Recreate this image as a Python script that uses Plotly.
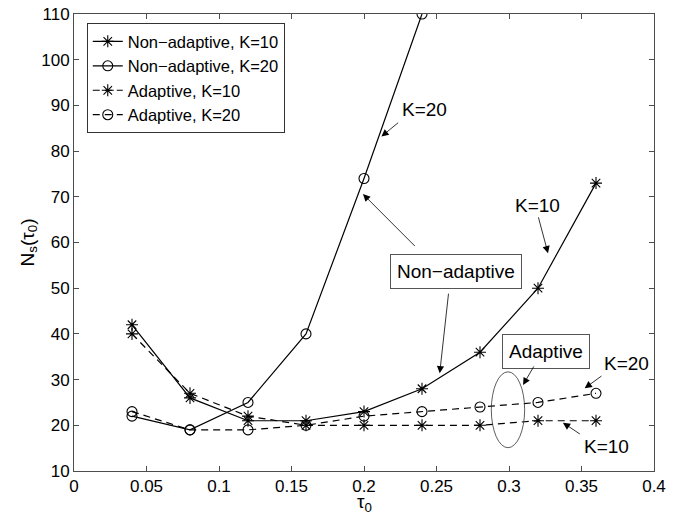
import plotly.graph_objects as go

# ---- data ----
tau = [0.04, 0.08, 0.12, 0.16, 0.20, 0.24, 0.28, 0.32, 0.36]
tau_k20_nonadapt = [0.04, 0.08, 0.12, 0.16, 0.20, 0.24]

nonadapt_k10 = [42, 26, 21, 21, 23, 28, 36, 50, 73]
nonadapt_k20 = [22, 19, 25, 40, 74, 110]
adapt_k10 = [40, 27, 22, 20, 20, 20, 20, 21, 21]
adapt_k20 = [23, 19, 19, 20, 22, 23, 24, 25, 27]

x_ticks = [0, 0.05, 0.1, 0.15, 0.2, 0.25, 0.3, 0.35, 0.4]
x_ticktext = ["0", "0.05", "0.1", "0.15", "0.2", "0.25", "0.3", "0.35", "0.4"]
y_ticks = [10, 20, 30, 40, 50, 60, 70, 80, 90, 100, 110]

FONT = "Liberation Sans, Arial, sans-serif"
BLACK = "#000000"
AX = "#4d4d4d"

fig = go.Figure()

def add(x, y, name, symbol, dash):
    fig.add_trace(go.Scatter(
        x=x, y=y, name=name, mode="lines+markers",
        line=dict(color=BLACK, width=1.2, dash=dash),
        marker=dict(symbol=symbol, size=10, color=BLACK,
                    line=dict(color=BLACK, width=1.1)),
    ))

add(tau, nonadapt_k10, "Non\u2212adaptive, K=10", "asterisk-open", "solid")
add(tau_k20_nonadapt, nonadapt_k20, "Non\u2212adaptive, K=20", "circle-open", "solid")
add(tau, adapt_k10, "Adaptive, K=10", "asterisk-open", "7px,5px")
add(tau, adapt_k20, "Adaptive, K=20", "circle-open", "7px,5px")

annotations = []

def text(x, y, t, box=False):
    d = dict(x=x, y=y, xref="x", yref="y", text=t, showarrow=False,
             font=dict(family=FONT, size=19, color=BLACK),
             xanchor="center", yanchor="middle")
    if box:
        d.update(bordercolor="#555555", borderwidth=1, borderpad=6, bgcolor="white")
    annotations.append(d)

def arrow(tx, ty, hx, hy):
    annotations.append(dict(x=hx, y=hy, ax=tx, ay=ty, xref="x", yref="y",
                            axref="x", ayref="y", text="", showarrow=True,
                            arrowhead=2, arrowsize=1.8, arrowwidth=0.8,
                            arrowcolor=BLACK, standoff=0, startstandoff=0))

text(0.2419, 89.05, "K=20")
arrow(0.2246, 86.48, 0.2120, 83.2)
text(0.3194, 68.07, "K=10")
arrow(0.3200, 65.84, 0.3269, 57.67)
text(0.2631, 53.57, "Non\u2212adaptive", box=True)
arrow(0.2361, 58.89, 0.1993, 70.59)
arrow(0.2584, 49.13, 0.2522, 31.39)
text(0.3255, 36.2, "Adaptive", box=True)
arrow(0.3177, 33.21, 0.3097, 28.83)
text(0.381, 33.58, "K=20")
arrow(0.3648, 31.02, 0.3522, 28.11)
text(0.3672, 15.32, "K=10")
arrow(0.3499, 17.88, 0.3372, 20.58)

# axis titles
annotations.append(dict(x=-0.0793, y=0.5, xref="paper", yref="paper",
                        text="N<sub>s</sub>(\u03c4<sub>0</sub>)", textangle=-90,
                        showarrow=False, xanchor="center", yanchor="middle",
                        font=dict(family=FONT, size=19, color=BLACK)))
annotations.append(dict(x=0.5, y=-0.070, xref="paper", yref="paper",
                        text="\u03c4<sub>0</sub>",
                        showarrow=False, xanchor="center", yanchor="middle",
                        font=dict(family=FONT, size=19, color=BLACK)))

fig.add_shape(type="circle", xref="x", yref="y",
              x0=0.2878, x1=0.3108, y0=15.1, y1=31.7,
              line=dict(color="#333333", width=0.8))

axis_common = dict(showline=True, linecolor=AX, linewidth=1, mirror="ticks",
                   ticks="inside", ticklen=5, tickcolor=AX, showgrid=False,
                   zeroline=False, automargin=False,
                   tickfont=dict(family=FONT, size=17, color=BLACK))

fig.update_layout(
    width=682, height=515,
    margin=dict(l=74, r=28, t=14, b=44),
    paper_bgcolor="white", plot_bgcolor="white",
    font=dict(family=FONT, size=17, color=BLACK),
    xaxis=dict(range=[0, 0.4], tickvals=x_ticks, ticktext=x_ticktext,
               **axis_common),
    yaxis=dict(range=[10, 110], tickvals=y_ticks, **axis_common),
    legend=dict(x=0.022, y=0.98, xanchor="left", yanchor="top",
                bgcolor="white", bordercolor="#333333", borderwidth=1,
                font=dict(family=FONT, size=16.5), tracegroupgap=0,
                itemwidth=30),
    annotations=annotations,
    showlegend=True,
)

# remove the page's default 8px body margin so the figure sits at the window's corner
fig.write_html("out.html", config={"displayModeBar": False},
               post_script="document.body.style.margin='0';")
